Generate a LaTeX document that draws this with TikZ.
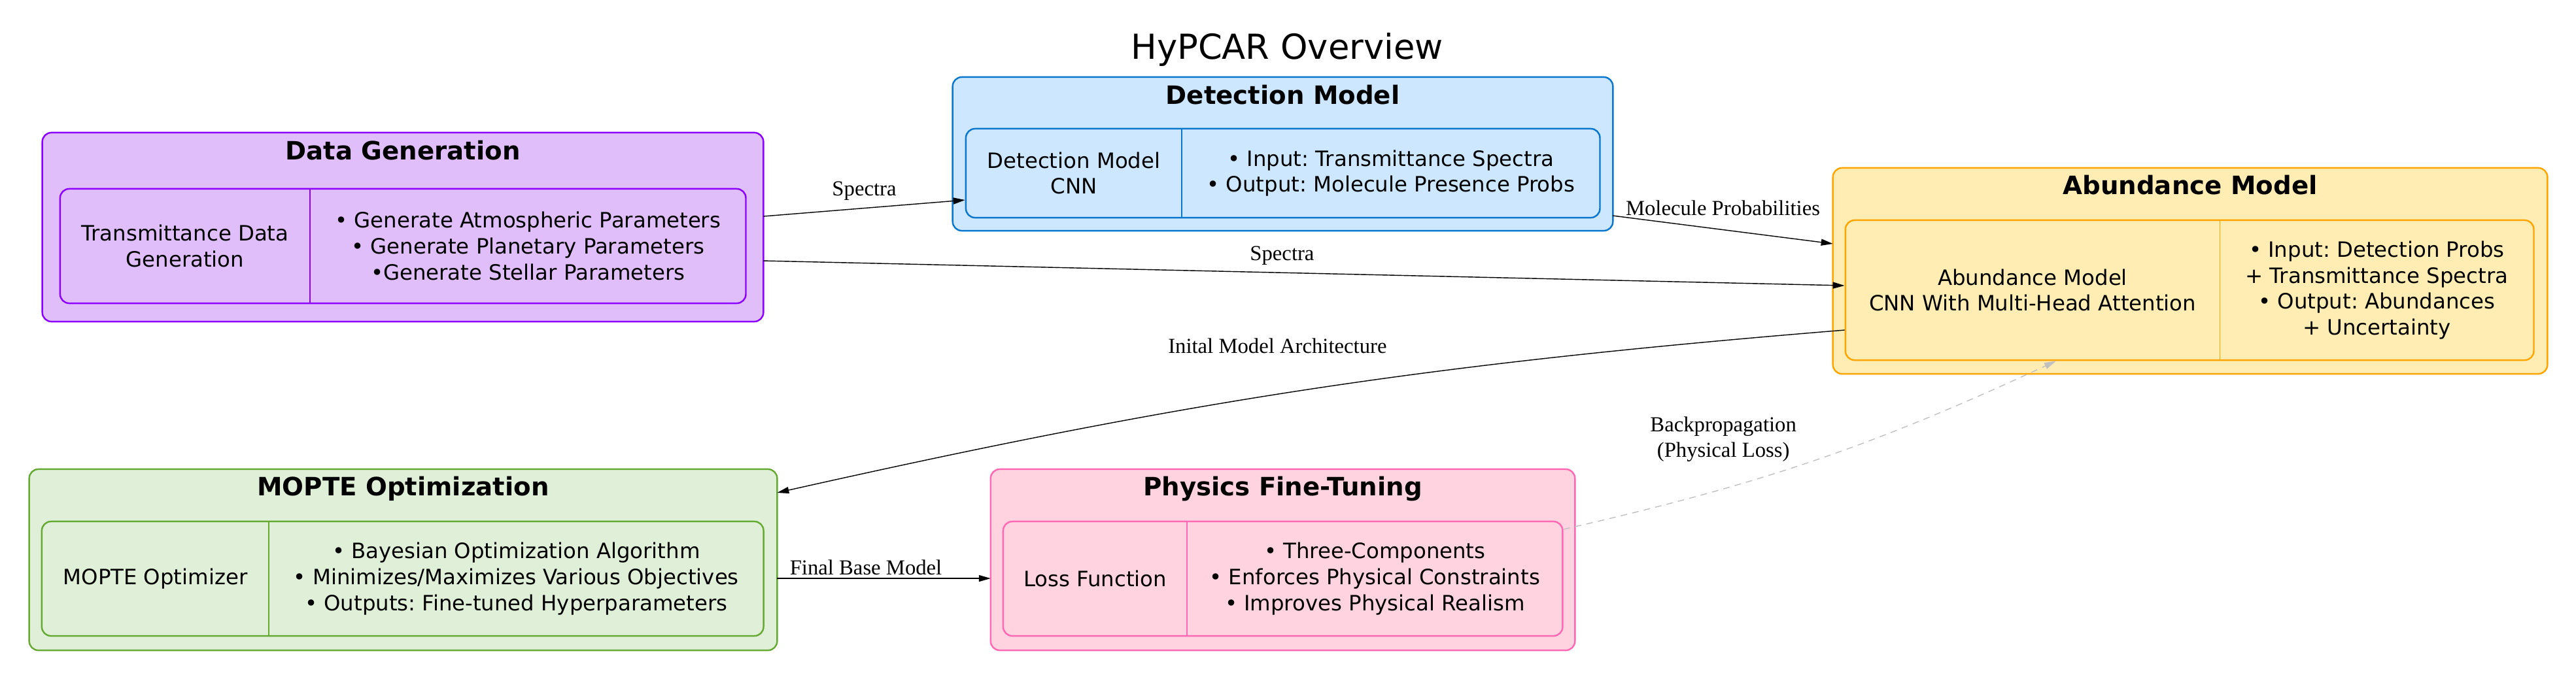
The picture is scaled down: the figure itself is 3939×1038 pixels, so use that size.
\documentclass[tikz,border=0pt]{standalone}
\usepackage{fontspec}
\setmainfont{Liberation Serif}
\newfontfamily\boxfont{DejaVu Sans}
\usetikzlibrary{arrows.meta,positioning,fit}
\frenchspacing

\definecolor{dgfill}{HTML}{E0BEFA}
\definecolor{dgline}{HTML}{8B00FF}
\definecolor{detfill}{HTML}{CCE7FF}
\definecolor{detline}{HTML}{0A77CC}
\definecolor{abfill}{HTML}{FFEDB3}
\definecolor{abline}{HTML}{FFA500}
\definecolor{mofill}{HTML}{E0F0D8}
\definecolor{moline}{HTML}{66AA33}
\definecolor{phfill}{HTML}{FFD3E0}
\definecolor{phline}{HTML}{FF69B4}
\definecolor{backgray}{HTML}{C0C0C0}

\begin{document}
\begin{tikzpicture}[x=0.01cm,y=-0.01cm,>={Triangle[length=1.8mm,width=1mm]},
  cluster/.style 2 args={draw=#1,fill=#2,line width=0.7pt,rounded corners=0.14cm,inner sep=0pt,outer sep=0pt},
  ctitle/.style={font=\boxfont\bfseries\fontsize{11}{13}\selectfont,anchor=base,inner sep=0pt},
  cell/.style={font=\boxfont\fontsize{9.2}{11.3}\selectfont,align=center,inner sep=0pt,outer sep=0pt,minimum height=#1},
  recframe/.style={draw=#1,line width=0.7pt,rounded corners=0.14cm,inner sep=0pt},
  divider/.style={draw=#1,line width=0.4pt},
  elabel/.style={font=\fontsize{9.3}{11.3}\selectfont,inner sep=0pt,align=center,text=black},
  flow/.style={->,line width=0.4pt}]
  \useasboundingbox (0,0) rectangle (3939,1038);

  \node[font=\boxfont\fontsize{15}{18}\selectfont,anchor=base,inner sep=0pt] (title) at (1968,90) {HyPCAR Overview};

  % data generation
  \node[cluster={dgline}{dgfill},minimum width=11.02cm,minimum height=2.89cm] (dg) at (616,347.5) {};
  \node[ctitle] (dgt) at ([yshift=-0.42cm]dg.north) {Data Generation};
  \node[cell=1.75cm,minimum width=3.82cm] (dgl) at (283,376.5) {Transmittance Data\\Generation};
  \node[cell=1.75cm,minimum width=6.66cm,right=0pt of dgl] (dgr) {• Generate Atmospheric Parameters\\• Generate Planetary Parameters\\•Generate Stellar Parameters};
  \node[recframe=dgline,fit=(dgl)(dgr)] (dgin) {};
  \draw[divider=dgline] (dgl.north east) -- (dgl.south east);

  % detection model
  \node[cluster={detline}{detfill},minimum width=10.09cm,minimum height=2.35cm] (det) at (1961.5,235.5) {};
  \node[ctitle] (dett) at ([yshift=-0.42cm]det.north) {Detection Model};
  \node[cell=1.36cm,minimum width=3.30cm] (detl) at (1642,265) {Detection Model\\CNN};
  \node[cell=1.36cm,minimum width=6.39cm,right=0pt of detl] (detr) {• Input: Transmittance Spectra\\• Output: Molecule Presence Probs};
  \node[recframe=detline,fit=(detl)(detr)] (detin) {};
  \draw[divider=detline] (detl.north east) -- (detl.south east);

  % abundance model
  \node[cluster={abline}{abfill},minimum width=10.92cm,minimum height=3.15cm] (ab) at (3349,414.5) {};
  \node[ctitle] (abt) at ([yshift=-0.41cm]ab.north) {Abundance Model};
  \node[cell=2.14cm,minimum width=5.72cm] (abl) at (3108,444) {Abundance Model\\CNN With Multi-Head Attention};
  \node[cell=2.14cm,minimum width=4.80cm,right=0pt of abl] (abr) {• Input: Detection Probs\\+ Transmittance Spectra\\• Output: Abundances\\+ Uncertainty};
  \node[recframe=abline,fit=(abl)(abr)] (abin) {};
  \draw[divider=abline] (abl.north east) -- (abl.south east);

  % mopte optimization
  \node[cluster={moline}{mofill},minimum width=11.43cm,minimum height=2.77cm] (mo) at (616.5,856.5) {};
  \node[ctitle] (mot) at ([yshift=-0.41cm]mo.north) {MOPTE Optimization};
  \node[cell=1.75cm,minimum width=3.47cm] (mol) at (237.5,885.5) {MOPTE Optimizer};
  \node[cell=1.75cm,minimum width=7.56cm,right=0pt of mol] (mor) {• Bayesian Optimization Algorithm\\• Minimizes/Maximizes Various Objectives\\• Outputs: Fine-tuned Hyperparameters};
  \node[recframe=moline,fit=(mol)(mor)] (moin) {};
  \draw[divider=moline] (mol.north east) -- (mol.south east);

  % physics fine-tuning
  \node[cluster={phline}{phfill},minimum width=8.93cm,minimum height=2.77cm] (ph) at (1961.5,856.5) {};
  \node[ctitle] (pht) at ([yshift=-0.41cm]ph.north) {Physics Fine-Tuning};
  \node[cell=1.75cm,minimum width=2.81cm] (phl) at (1674.5,885.5) {Loss Function};
  \node[cell=1.75cm,minimum width=5.74cm,right=0pt of phl] (phr) {• Three-Components\\• Enforces Physical Constraints\\• Improves Physical Realism};
  \node[recframe=phline,fit=(phl)(phr)] (phin) {};
  \draw[divider=phline] (phl.north east) -- (phl.south east);

  \path ([yshift=0.165cm]dg.east)   edge [flow]             node[elabel,midway,yshift=0.265cm] {Spectra} ([yshift=-0.41cm]detin.west);
  \path ([yshift=-0.515cm]dg.east)  edge [flow]             node[elabel,midway,xshift=-0.335cm,yshift=0.27cm] {Spectra} ([yshift=0.07cm]abin.west);
  \path ([yshift=-0.945cm]det.east) edge [flow]             node[elabel,midway,yshift=0.335cm] {Molecule Probabilities} ([yshift=0.415cm]ab.west);
  \path ([yshift=-0.61cm]abin.west) edge [flow,bend right=4] node[elabel,midway,xshift=-0.46cm,yshift=0.67cm] {Inital Model Architecture} ([yshift=1.025cm]mo.east);
  \path ([yshift=-0.285cm]mo.east)  edge [flow]             node[elabel,midway,xshift=-0.275cm,yshift=0.17cm] {Final Base Model} ([yshift=-0.285cm]ph.west);
  \path ([yshift=0.755cm]phin.east) edge [flow,color=backgray,dash pattern=on 0.1cm off 0.08cm,bend right=6]
        node[elabel,midway,xshift=-1.4cm,yshift=0.32cm] {Backpropagation\\(Physical Loss)} ([xshift=-2.04cm]abin.south);
\end{tikzpicture}
\end{document}
